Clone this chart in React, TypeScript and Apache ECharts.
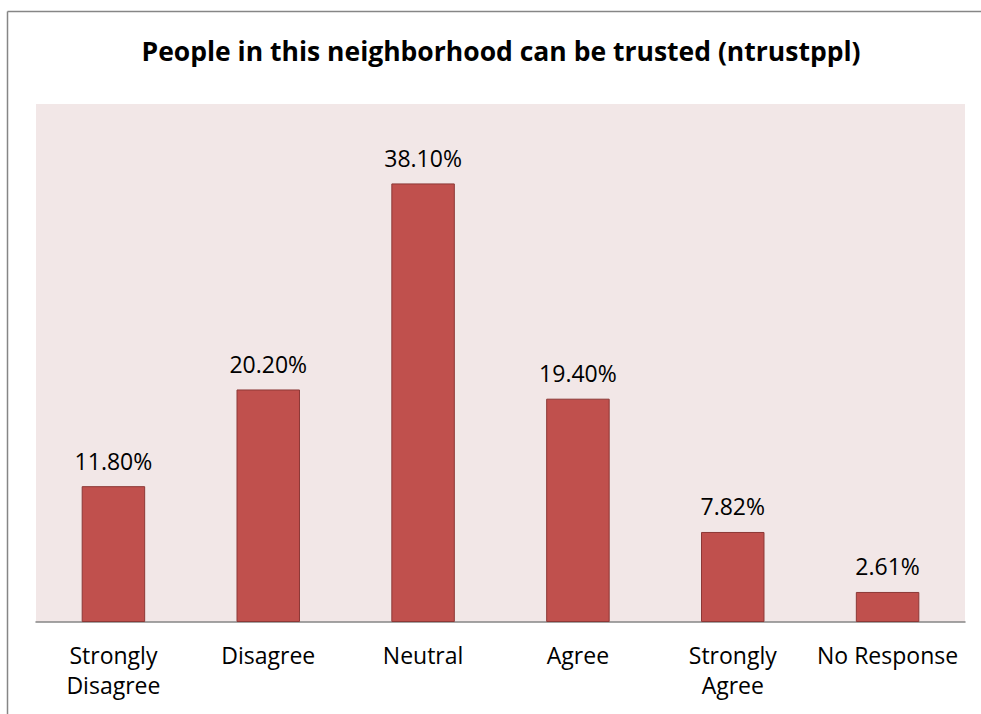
import React, { useEffect, useRef } from "react";
import * as echarts from "echarts";

const title = "People in this neighborhood can be trusted (ntrustppl)";
const categories = ["Strongly\nDisagree", "Disagree", "Neutral", "Agree", "Strongly\nAgree", "No Response"];
const values = [11.8, 20.2, 38.1, 19.4, 7.82, 2.61];
const yMax = 45;

export default function App() {
  const ref = useRef<HTMLDivElement>(null);
  useEffect(() => {
    if (!ref.current) return;
    const chart = echarts.init(ref.current, null, { renderer: "svg" });
    const font = "'Open Sans', sans-serif";
    chart.setOption({
      animation: false,
      backgroundColor: "#ffffff",
      title: {
        text: title,
        left: 496,
        top: 32,
        textAlign: "center",
        textStyle: { fontFamily: font, fontWeight: "bold", fontSize: 26.5, color: "#000000" },
      },
      graphic: [
        {
          type: "line",
          shape: { x1: 7.5, y1: 11.5, x2: 981, y2: 11.5 },
          style: { stroke: "#868686", lineWidth: 1.5 },
          z: 100,
        },
        {
          type: "line",
          shape: { x1: 7.5, y1: 11.5, x2: 7.5, y2: 714 },
          style: { stroke: "#868686", lineWidth: 1.5 },
          z: 100,
        },
      ],
      grid: { left: 36, right: 16, top: 104, bottom: 92, backgroundColor: "#F2E7E7", show: true, borderWidth: 0 },
      xAxis: {
        type: "category",
        data: categories,
        axisLine: { show: true, lineStyle: { color: "#868686", width: 1.5 } },
        axisTick: { show: false },
        axisLabel: { fontFamily: font, fontSize: 23, color: "#000000", lineHeight: 30, margin: 18, interval: 0 },
      },
      yAxis: {
        type: "value",
        min: 0,
        max: yMax,
        show: false,
        splitLine: { show: false },
      },
      series: [
        {
          type: "bar",
          data: values,
          barWidth: "41%",
          itemStyle: { color: "#C0504D", borderColor: "#8C3836", borderWidth: 1 },
          label: {
            show: true,
            position: "top",
            distance: 14,
            fontFamily: font,
            fontSize: 23,
            color: "#000000",
            formatter: (p: any) => p.value.toFixed(2) + "%",
          },
        },
      ],
    });
    return () => chart.dispose();
  }, []);
  return <div ref={ref} style={{ position: "fixed", left: 0, top: 0, width: 981, height: 714 }} />;
}
